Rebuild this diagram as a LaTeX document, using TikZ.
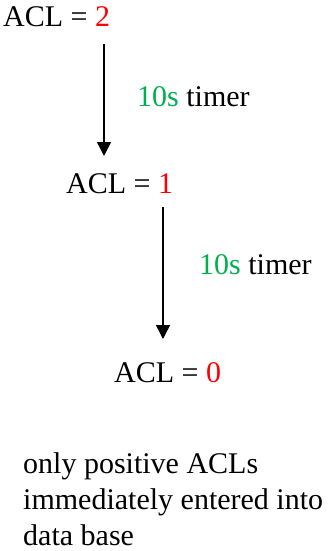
\documentclass[tikz,border=0pt]{standalone}
\usepackage{fontspec}
\setmainfont{Liberation Serif}
\usetikzlibrary{arrows.meta}
\definecolor{aclred}{RGB}{255,0,0}
\definecolor{tgreen}{RGB}{0,176,80}
\tikzset{
  lbl/.style={anchor=base west, inner sep=0pt, font=\fontsize{30}{36}\selectfont},
  arr/.style={line width=1.5pt, -{Triangle[length=14pt,width=14pt]}}
}
\begin{document}
\begin{tikzpicture}[x=1pt,y=-1pt]
\useasboundingbox (0,0) rectangle (328,551);
\node[lbl] (a2) at (3,27) {ACL = \textcolor{aclred}{2}};
\node[lbl] (t1) at (137,106) {\textcolor{tgreen}{10s} timer};
\node[lbl] (a1) at (66,193) {ACL = \textcolor{aclred}{1}};
\node[lbl] (t2) at (199,274) {\textcolor{tgreen}{10s} timer};
\node[lbl] (a0) at (114,382) {ACL = \textcolor{aclred}{0}};
\node[lbl, align=left] (note) at (23,545) {only positive ACLs\\immediately entered into\\data base};
\coordinate (s1) at (104,44);
\coordinate (e1) at (104,156);
\coordinate (s2) at (163,207);
\coordinate (e2) at (163,339);
\draw[arr] (s1) -- (e1);
\draw[arr] (s2) -- (e2);
\end{tikzpicture}
\end{document}
